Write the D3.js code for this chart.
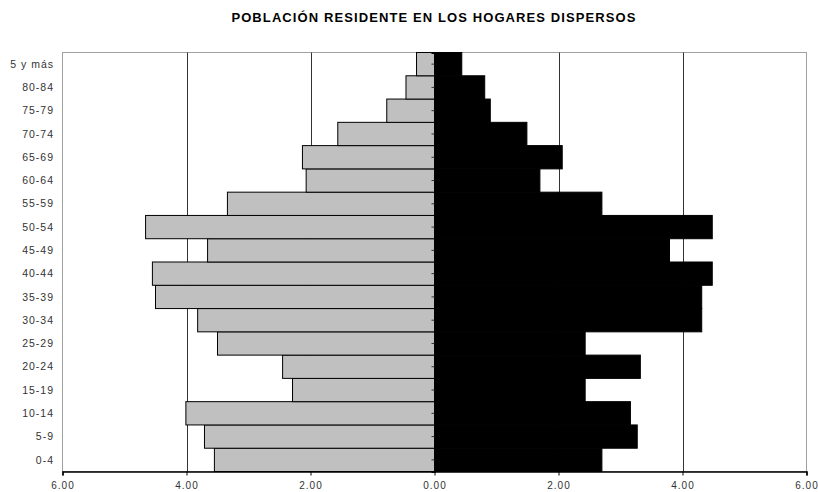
<!DOCTYPE html>
<html>
<head>
<meta charset="utf-8">
<script src="https://cdn.jsdelivr.net/npm/d3@7"></script>
<style>
  body { margin: 0; background: #fff; }
  text { font-family: "Liberation Sans", Arial, sans-serif; }
</style>
</head>
<body>
<svg id="chart" width="818" height="492"></svg>
<script>
// age groups, bottom to top
var ageGroups = ["0-4", "5-9", "10-14", "15-19", "20-24", "25-29", "30-34", "35-39", "40-44",
                 "45-49", "50-54", "55-59", "60-64", "65-69", "70-74", "75-79", "80-84", "5 y más"];
// left side (grey) and right side (black), percent
var leftValues  = [3.55, 3.71, 4.01, 2.29, 2.45, 3.50, 3.82, 4.50, 4.55,
                   3.66, 4.66, 3.34, 2.07, 2.13, 1.56, 0.77, 0.46, 0.29];
var rightValues = [2.70, 3.27, 3.16, 2.43, 3.32, 2.43, 4.31, 4.31, 4.48,
                   3.79, 4.48, 2.70, 1.70, 2.06, 1.49, 0.90, 0.81, 0.44];
var xTicks = [-6, -4, -2, 0, 2, 4, 6];

var svg = d3.select("#chart");
var margin = { top: 52.5, right: 11.5, bottom: 20.5, left: 62.5 };
var w = 818 - margin.left - margin.right;
var h = 492 - margin.top - margin.bottom;

var x = d3.scaleLinear().domain([-6, 6]).range([margin.left, margin.left + w]);
var y = d3.scaleBand()
    .domain(ageGroups.slice().reverse())
    .range([margin.top, margin.top + h])
    .padding(0);

var data = ageGroups.map(function(g, i) {
    return { group: g, left: leftValues[i], right: rightValues[i] };
});

// title
svg.append("text")
    .attr("x", 434)
    .attr("y", 22)
    .attr("text-anchor", "middle")
    .attr("font-size", "13px")
    .attr("font-weight", "bold")
    .attr("letter-spacing", "1.1px")
    .attr("fill", "#000")
    .text("POBLACIÓN RESIDENTE EN LOS HOGARES DISPERSOS");

// plot frame
svg.append("rect")
    .attr("x", x(-6))
    .attr("y", margin.top)
    .attr("width", x(6) - x(-6))
    .attr("height", h)
    .attr("fill", "#fff")
    .attr("stroke", "#a0a0a0")
    .attr("stroke-width", 1);

// vertical gridlines
svg.selectAll("line.grid")
    .data(xTicks.filter(function(d) { return d !== -6 && d !== 6; }))
    .enter()
    .append("line")
    .attr("class", "grid")
    .attr("x1", function(d) { return Math.round(x(d)) + 0.5; })
    .attr("x2", function(d) { return Math.round(x(d)) + 0.5; })
    .attr("y1", margin.top)
    .attr("y2", margin.top + h)
    .attr("stroke", "#333")
    .attr("stroke-width", 1);

// grey bars (left)
svg.selectAll("rect.left")
    .data(data)
    .enter()
    .append("rect")
    .attr("class", "left")
    .attr("x", function(d) { return x(-d.left); })
    .attr("y", function(d) { return y(d.group); })
    .attr("width", function(d) { return x(0) - x(-d.left); })
    .attr("height", y.bandwidth())
    .attr("fill", "#c0c0c0")
    .attr("stroke", "#000")
    .attr("stroke-width", 1);

// black bars (right)
svg.selectAll("rect.right")
    .data(data)
    .enter()
    .append("rect")
    .attr("class", "right")
    .attr("x", x(0))
    .attr("y", function(d) { return y(d.group); })
    .attr("width", function(d) { return x(d.right) - x(0); })
    .attr("height", y.bandwidth())
    .attr("fill", "#000")
    .attr("stroke", "#000")
    .attr("stroke-width", 1);

// category axis at zero
var yAxis = d3.axisLeft(y).tickSize(3).tickPadding(0).tickFormat("");
var yg = svg.append("g")
    .attr("transform", "translate(" + x(0) + ",0)")
    .call(yAxis);
yg.select(".domain").attr("stroke", "#000").attr("stroke-width", 2);
yg.selectAll(".tick line").attr("stroke", "#333");

// category labels at the left
svg.selectAll("text.cat")
    .data(ageGroups)
    .enter()
    .append("text")
    .attr("class", "cat")
    .attr("x", 54)
    .attr("y", function(d) { return y(d) + y.bandwidth() / 2; })
    .attr("dy", "0.35em")
    .attr("text-anchor", "end")
    .attr("font-size", "10.5px")
    .attr("letter-spacing", "1px")
    .attr("fill", "#333")
    .text(function(d) { return d; });

// value axis (labels sit right at the bottom edge, as in the original)
var xAxis = d3.axisBottom(x)
    .tickValues(xTicks)
    .tickSize(4)
    .tickPadding(6)
    .tickFormat(function(d) { return Math.abs(d).toFixed(2); });
var xg = svg.append("g")
    .attr("transform", "translate(0," + (margin.top + h) + ")")
    .call(xAxis);
xg.select(".domain").attr("stroke", "#000").attr("stroke-width", 1.5);
xg.selectAll(".tick line").attr("stroke", "#000");
xg.selectAll(".tick text")
    .attr("font-size", "10px")
    .attr("letter-spacing", "1px")
    .attr("fill", "#333")
    .attr("font-family", "'Liberation Sans', Arial, sans-serif");
</script>
</body>
</html>
